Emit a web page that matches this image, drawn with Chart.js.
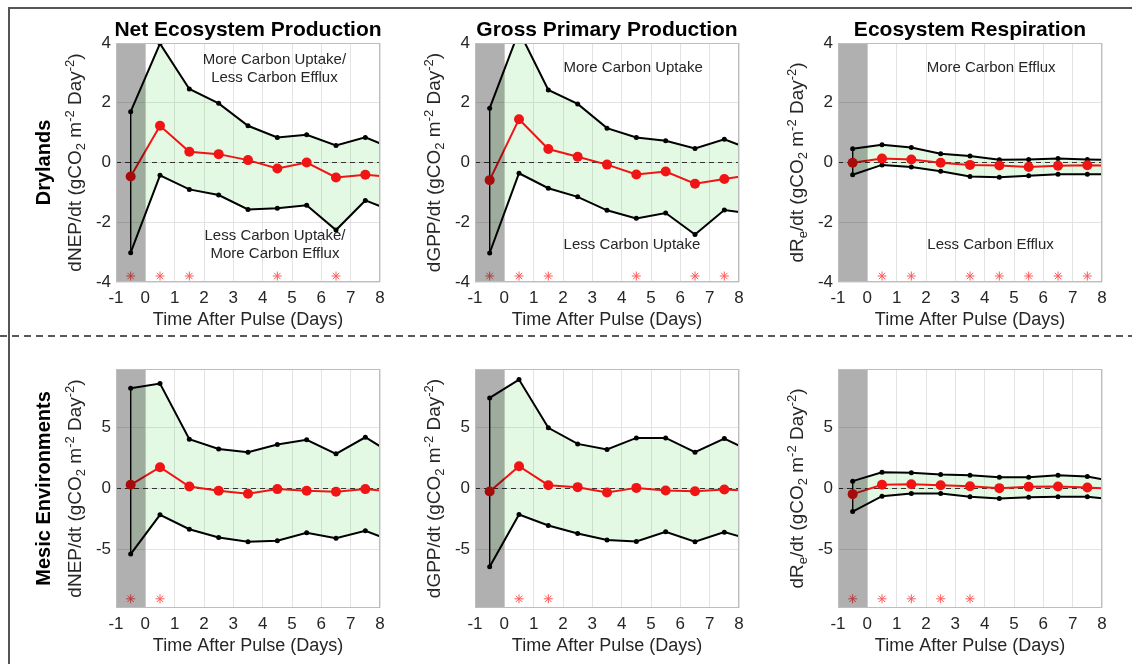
<!DOCTYPE html>
<html>
<head>
<meta charset="utf-8">
<script src="https://cdn.jsdelivr.net/npm/chart.js@4.4.0/dist/chart.umd.min.js"></script>
<style>
body { margin: 0; background: #fff; width: 1132px; height: 664px; overflow: hidden; position: relative; }
#frame { position: absolute; left: 8px; top: 7px; width: 1124px; height: 657px; border-top: 2px solid #555; border-left: 2px solid #555; box-sizing: border-box; }
canvas { position: absolute; }
svg { position: absolute; left: 0; top: 0; }
</style>
</head>
<body>
<div id="frame"></div>
<svg width="1132" height="664"><line x1="0" y1="336" x2="1132" y2="336" stroke="#222" stroke-width="1.5" stroke-dasharray="7 5"/></svg>
<canvas id="nepDry"></canvas>
<canvas id="gppDry"></canvas>
<canvas id="reDry"></canvas>
<canvas id="nepMes"></canvas>
<canvas id="gppMes"></canvas>
<canvas id="reMes"></canvas>
<script>
// days after pulse (last point sits past the axis and is clipped)
const days = [-0.5, 0.5, 1.5, 2.5, 3.5, 4.5, 5.5, 6.5, 7.5, 8.5];
const xTicks = [-1, 0, 1, 2, 3, 4, 5, 6, 7, 8];
const dryTicks = [-4, -2, 0, 2, 4];
const mesicTicks = [-5, 0, 5];

// Drylands
const nepDryMean  = [-0.47, 1.23, 0.36, 0.28, 0.08, -0.20, 0.00, -0.50, -0.41, -0.49];
const nepDryUpper = [1.70, 3.98, 2.46, 1.98, 1.23, 0.84, 0.93, 0.57, 0.84, 0.44];
const nepDryLower = [-3.02, -0.43, -0.90, -1.09, -1.57, -1.53, -1.43, -2.26, -1.27, -1.65];
const nepDryStars = [-0.5, 0.5, 1.5, 4.5, 6.5];

const gppDryMean  = [-0.59, 1.45, 0.45, 0.19, -0.07, -0.40, -0.30, -0.71, -0.55, -0.41];
const gppDryUpper = [1.82, 4.40, 2.43, 1.96, 1.15, 0.84, 0.73, 0.47, 0.78, 0.40];
const gppDryLower = [-3.03, -0.36, -0.86, -1.15, -1.60, -1.87, -1.69, -2.41, -1.59, -1.73];
const gppDryStars = [-0.5, 0.5, 1.5, 4.5, 6.5, 7.5];

const reDryMean  = [-0.01, 0.13, 0.10, -0.01, -0.08, -0.10, -0.15, -0.11, -0.09, -0.11];
const reDryUpper = [0.46, 0.59, 0.50, 0.29, 0.22, 0.09, 0.10, 0.13, 0.10, 0.08];
const reDryLower = [-0.41, -0.08, -0.15, -0.29, -0.47, -0.49, -0.44, -0.39, -0.39, -0.39];
const reDryStars = [0.5, 1.5, 3.5, 4.5, 5.5, 6.5, 7.5];

// Mesic environments
const nepMesMean  = [0.30, 1.74, 0.16, -0.19, -0.43, -0.05, -0.19, -0.27, -0.05, -0.27];
const nepMesUpper = [8.18, 8.56, 4.02, 3.23, 2.96, 3.59, 3.97, 2.83, 4.18, 2.72];
const nepMesLower = [-5.35, -2.15, -3.32, -3.99, -4.35, -4.27, -3.61, -4.05, -3.45, -4.37];
const nepMesStars = [-0.5, 0.5];

const gppMesMean  = [-0.24, 1.82, 0.27, 0.11, -0.33, 0.05, -0.16, -0.22, -0.08, -0.20];
const gppMesUpper = [7.39, 8.89, 4.95, 3.64, 3.18, 4.13, 4.13, 2.96, 4.08, 2.93];
const gppMesLower = [-6.39, -2.12, -3.02, -3.67, -4.21, -4.32, -3.53, -4.35, -3.56, -4.22];
const gppMesStars = [0.5, 1.5];

const reMesMean  = [-0.46, 0.30, 0.35, 0.27, 0.19, 0.03, 0.14, 0.16, 0.08, -0.02];
const reMesUpper = [0.60, 1.33, 1.28, 1.14, 1.09, 0.92, 0.92, 1.09, 0.98, 0.54];
const reMesLower = [-1.88, -0.63, -0.41, -0.41, -0.68, -0.82, -0.71, -0.68, -0.68, -0.90];
const reMesStars = [-0.5, 0.5, 1.5, 2.5, 3.5];

const FONT = '"Liberation Sans", Arial, Helvetica, sans-serif';
const TXT = '#262626';
const RED = '#f01414';
const GREEN = 'rgba(40, 210, 40, 0.13)';

// y-axis titles as [text, shift] pieces: -1 subscript, 1 superscript
const nepTitle = [['dNEP/dt (gCO', 0], ['2', -1], [' m', 0], ['-2', 1], [' Day', 0], ['-2', 1], [')', 0]];
const gppTitle = [['dGPP/dt (gCO', 0], ['2', -1], [' m', 0], ['-2', 1], [' Day', 0], ['-2', 1], [')', 0]];
const reTitle  = [['dR', 0], ['e', -1], ['/dt (gCO', 0], ['2', -1], [' m', 0], ['-2', 1], [' Day', 0], ['-2', 1], [')', 0]];

function drawRich(ctx, parts, size) {
  const small = Math.round(size * 0.7);
  let total = 0;
  const widths = parts.map(([t, s]) => {
    ctx.font = (s ? small : size) + 'px ' + FONT;
    const w = ctx.measureText(t).width;
    total += w;
    return w;
  });
  let x = -total / 2;
  parts.forEach(([t, s], i) => {
    ctx.font = (s ? small : size) + 'px ' + FONT;
    const dy = s === -1 ? 4 : (s === 1 ? -7 : 0);
    ctx.fillText(t, x, 6 + dy);
    x += widths[i];
  });
}

function makePanel(id, cfg) {
  const L = cfg.left, T = 40, R = 12, B = 50, W = 264, H = 239;
  const canvas = document.getElementById(id);
  canvas.width = L + W + R;
  canvas.height = T + H + B;
  canvas.style.left = (cfg.plotX - L) + 'px';
  canvas.style.top = (cfg.plotY - T) + 'px';

  const pts = arr => days.map((d, i) => ({ x: d, y: arr[i] }));
  const ticks = cfg.yTicks;

  const panelPlugin = {
    id: 'panel_' + id,
    beforeDatasetsDraw(chart) {
      const { ctx, chartArea: a, scales: { y } } = chart;
      const y0 = y.getPixelForValue(0);
      ctx.save();
      ctx.strokeStyle = '#333';
      ctx.lineWidth = 1.2;
      ctx.setLineDash([5, 4]);
      ctx.beginPath();
      ctx.moveTo(a.left, y0);
      ctx.lineTo(a.right, y0);
      ctx.stroke();
      ctx.restore();
    },
    afterDatasetsDraw(chart) {
      const { ctx, chartArea: a, scales: { x, y } } = chart;
      ctx.save();
      // pre-pulse period
      ctx.fillStyle = 'rgba(0,0,0,0.31)';
      const x1 = x.getPixelForValue(0);
      ctx.fillRect(a.left, a.top, x1 - a.left, a.bottom - a.top);
      // region notes
      ctx.fillStyle = TXT;
      ctx.font = '15px ' + FONT;
      ctx.textAlign = 'center';
      ctx.textBaseline = 'middle';
      (cfg.notes || []).forEach(n => {
        n.lines.forEach((line, k) => {
          ctx.fillText(line, x.getPixelForValue(n.x), y.getPixelForValue(n.y) + k * 18);
        });
      });
      ctx.restore();
    },
    afterDraw(chart) {
      const { ctx, chartArea: a } = chart;
      ctx.save();
      ctx.strokeStyle = '#bdbdbd';
      ctx.lineWidth = 1;
      ctx.strokeRect(a.left + 0.5, a.top + 0.5, a.right - a.left - 1, a.bottom - a.top - 1);
      ctx.fillStyle = TXT;
      // y title
      ctx.save();
      ctx.translate(a.left - 41, (a.top + a.bottom) / 2);
      ctx.rotate(-Math.PI / 2);
      ctx.textAlign = 'left';
      ctx.textBaseline = 'alphabetic';
      drawRich(ctx, cfg.yTitle, 19);
      ctx.restore();
      ctx.fillStyle = '#000';
      ctx.font = 'bold 21px ' + FONT;
      ctx.textAlign = 'center';
      ctx.textBaseline = 'middle';
      if (cfg.title) ctx.fillText(cfg.title, (a.left + a.right) / 2, a.top - 13);
      if (cfg.rowLabel) {
        ctx.font = 'bold 20px ' + FONT;
        ctx.translate(a.left - 72, (a.top + a.bottom) / 2);
        ctx.rotate(-Math.PI / 2);
        ctx.fillText(cfg.rowLabel, 0, 0);
      }
      ctx.restore();
    }
  };

  return new Chart(canvas, {
    type: 'line',
    data: {
      datasets: [
        { label: 'Mean', data: pts(cfg.mean), borderColor: RED, backgroundColor: RED,
          borderWidth: 2, pointRadius: 5, pointBorderWidth: 0, fill: false, order: 0 },
        { label: 'Significant', data: cfg.stars.map(d => ({ x: d, y: cfg.starY })), showLine: false,
          pointStyle: 'star', pointRadius: 4.5, borderColor: '#ff5a5a', borderWidth: 1, order: 1 },
        { label: 'Upper', data: pts(cfg.upper), borderColor: '#000', backgroundColor: '#000',
          borderWidth: 2, pointRadius: 2.5, pointBorderWidth: 0,
          fill: { target: 3, above: GREEN, below: GREEN }, order: 3 },
        { label: 'Lower', data: pts(cfg.lower), borderColor: '#000', backgroundColor: '#000',
          borderWidth: 2, pointRadius: 2.5, pointBorderWidth: 0, fill: false, order: 4 },
        { label: 'Edge', data: [{ x: days[0], y: cfg.upper[0] }, { x: days[0], y: cfg.lower[0] }],
          borderColor: '#000', borderWidth: 1, pointRadius: 0, fill: false, order: 2 }
      ]
    },
    options: {
      responsive: false,
      animation: false,
      devicePixelRatio: 1,
      layout: { padding: { left: 0, top: T, right: R, bottom: 0 } },
      plugins: {
        legend: { display: false },
        tooltip: { enabled: false },
        filler: { drawTime: 'beforeDatasetsDraw' }
      },
      scales: {
        x: {
          type: 'linear', min: -1, max: 8,
          afterBuildTicks: s => { s.ticks = xTicks.map(v => ({ value: v })); },
          afterFit: s => { s.height = B; },
          grid: { color: '#e3e3e3', drawTicks: false },
          border: { display: false },
          ticks: { padding: 6, color: TXT, font: { size: 17, family: FONT } },
          title: { display: true, text: 'Time After Pulse (Days)', color: TXT,
                   font: { size: 18, family: FONT }, padding: { top: 0, bottom: 1 } }
        },
        y: {
          type: 'linear', min: cfg.yMin, max: cfg.yMax,
          afterBuildTicks: s => { s.ticks = ticks.map(v => ({ value: v })); },
          afterFit: s => { s.width = L; },
          grid: { color: '#e3e3e3', drawTicks: false },
          border: { display: false },
          ticks: { padding: 5, color: TXT, font: { size: 17, family: FONT } }
        }
      }
    },
    plugins: [panelPlugin]
  });
}

makePanel('nepDry', {
  plotX: 116, plotY: 43, left: 100, yMin: -4, yMax: 4, yTicks: dryTicks,
  mean: nepDryMean, upper: nepDryUpper, lower: nepDryLower, stars: nepDryStars, starY: -3.8,
  title: 'Net Ecosystem Production', rowLabel: 'Drylands', yTitle: nepTitle,
  notes: [{ x: 4.4, y: 3.45, lines: ['More Carbon Uptake/', 'Less Carbon Efflux'] },
          { x: 4.42, y: -2.46, lines: ['Less Carbon Uptake/', 'More Carbon Efflux'] }]
});
makePanel('gppDry', {
  plotX: 475, plotY: 43, left: 60, yMin: -4, yMax: 4, yTicks: dryTicks,
  mean: gppDryMean, upper: gppDryUpper, lower: gppDryLower, stars: gppDryStars, starY: -3.8,
  title: 'Gross Primary Production', yTitle: gppTitle,
  notes: [{ x: 4.39, y: 3.18, lines: ['More Carbon Uptake'] },
          { x: 4.35, y: -2.77, lines: ['Less Carbon Uptake'] }]
});
makePanel('reDry', {
  plotX: 838, plotY: 43, left: 60, yMin: -4, yMax: 4, yTicks: dryTicks,
  mean: reDryMean, upper: reDryUpper, lower: reDryLower, stars: reDryStars, starY: -3.8,
  title: 'Ecosystem Respiration', yTitle: reTitle,
  notes: [{ x: 4.22, y: 3.18, lines: ['More Carbon Efflux'] },
          { x: 4.2, y: -2.77, lines: ['Less Carbon Efflux'] }]
});
makePanel('nepMes', {
  plotX: 116, plotY: 369, left: 100, yMin: -9.75, yMax: 9.75, yTicks: mesicTicks,
  mean: nepMesMean, upper: nepMesUpper, lower: nepMesLower, stars: nepMesStars, starY: -9.0,
  rowLabel: 'Mesic Environments', yTitle: nepTitle
});
makePanel('gppMes', {
  plotX: 475, plotY: 369, left: 60, yMin: -9.75, yMax: 9.75, yTicks: mesicTicks,
  mean: gppMesMean, upper: gppMesUpper, lower: gppMesLower, stars: gppMesStars, starY: -9.0,
  yTitle: gppTitle
});
makePanel('reMes', {
  plotX: 838, plotY: 369, left: 60, yMin: -9.75, yMax: 9.75, yTicks: mesicTicks,
  mean: reMesMean, upper: reMesUpper, lower: reMesLower, stars: reMesStars, starY: -9.0,
  yTitle: reTitle
});
</script>
</body>
</html>
